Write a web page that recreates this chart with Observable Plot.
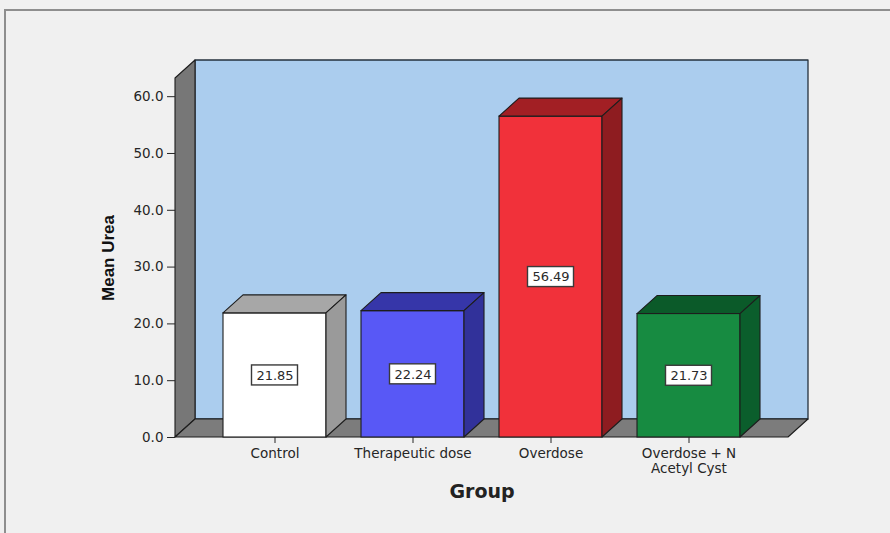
<!DOCTYPE html>
<html>
<head>
<meta charset="utf-8">
<script src="https://cdn.jsdelivr.net/npm/d3@7"></script>
<script src="https://cdn.jsdelivr.net/npm/@observablehq/plot@0.6"></script>
<style>
  html, body { margin: 0; padding: 0; background: #f0f0f0; }
  #wrap { position: relative; width: 890px; height: 533px; overflow: hidden; background: #f0f0f0; }
  #frame { position: absolute; left: 4px; top: 9px; width: 1000px; height: 1000px;
           border-top: 2px solid #8e8e8e; border-left: 2px solid #8e8e8e; z-index: 2; pointer-events: none; }
  #chart { position: absolute; left: 0; top: 0; }
</style>
</head>
<body>
<div id="wrap"><div id="frame"></div><div id="chart"></div></div>
<script>
// ---- data ----
const groups = ["Control", "Therapeutic dose", "Overdose", "Overdose + N\nAcetyl Cyst"];
const meanUrea = [21.85, 22.24, 56.49, 21.73];
const yTicks = [0, 10, 20, 30, 40, 50, 60];
const yDomain = [0, 63.2];
const frontColors = ["#ffffff", "#5858f6", "#f1313a", "#178b41"];
const topColors   = ["#a7a7a7", "#3636a9", "#a21f24", "#0b5a29"];
const sideColors  = ["#9a9a9a", "#31319a", "#8e1c20", "#0b5e2c"];

const data = groups.map((g, i) => ({
  group: g, value: meanUrea[i], front: frontColors[i], top: topColors[i], side: sideColors[i]
}));

// 3D depth offsets in pixels (style)
const DX = 20, DY = 18;
const EDGE = "#1d1d1d";

function polygon(g, pts, fill, stroke = EDGE, sw = 1.1) {
  g.append("polygon")
    .attr("points", pts.map(p => p.join(",")).join(" "))
    .attr("fill", fill)
    .attr("stroke", stroke)
    .attr("stroke-width", sw)
    .attr("stroke-linejoin", "round");
}

// back wall, left wall, floor
function walls(index, scales, values, dimensions) {
  const {width, marginLeft, marginRight} = dimensions;
  const x0 = marginLeft, x1 = width - marginRight;
  const yb = scales.y(yDomain[0]), yt = scales.y(yDomain[1]);
  const g = d3.create("svg:g");
  polygon(g, [[x0 + DX, yt - DY], [x1 + DX, yt - DY], [x1 + DX, yb - DY], [x0 + DX, yb - DY]], "#abcdee", "#25313d", 1.3);
  polygon(g, [[x0, yb], [x0, yt], [x0 + DX, yt - DY], [x0 + DX, yb - DY]], "#777777");
  polygon(g, [[x0, yb], [x0 + DX, yb - DY], [x1 + DX, yb - DY], [x1, yb]], "#7c7c7c");
  return g.node();
}

// top and side faces of each bar
function barFaces(index, scales) {
  const g = d3.create("svg:g");
  const bw = scales.x.bandwidth();
  const yb = scales.y(0);
  data.forEach(d => {
    const xl = scales.x(d.group), xr = xl + bw, yt = scales.y(d.value);
    polygon(g, [[xl, yt], [xl + DX, yt - DY], [xr + DX, yt - DY], [xr, yt]], d.top);
    polygon(g, [[xr, yt], [xr + DX, yt - DY], [xr + DX, yb - DY], [xr, yb]], d.side);
  });
  return g.node();
}

// white boxes behind value labels
function labelBoxes(index, scales) {
  const g = d3.create("svg:g");
  const bw = scales.x.bandwidth();
  const W = 46, H = 20;
  data.forEach(d => {
    const cx = scales.x(d.group) + bw / 2, cy = scales.y(d.value / 2);
    g.append("rect")
      .attr("x", cx - W / 2).attr("y", cy - H / 2)
      .attr("width", W).attr("height", H)
      .attr("fill", "#ffffff").attr("stroke", "#3a3a3a").attr("stroke-width", 1.4);
  });
  return g.node();
}

const chart = Plot.plot({
  width: 890,
  height: 533,
  marginLeft: 175,
  marginRight: 102,
  marginTop: 78,
  marginBottom: 96,
  style: {background: "transparent", fontFamily: "DejaVu Sans", fontSize: "13px", color: "#222", overflow: "visible"},
  color: {type: "identity"},
  x: {type: "band", domain: groups, paddingInner: 0.2536, paddingOuter: 0.3437, align: 0.5},
  y: {domain: yDomain},
  marks: [
    walls,
    Plot.barY(data, {x: "group", y: "value", fill: "front", stroke: EDGE, strokeWidth: 1.1, inset: 0}),
    barFaces,
    labelBoxes,
    Plot.text(data, {x: "group", y: d => d.value / 2, text: d => d.value.toFixed(2),
                     fontSize: 13, fill: "#2a2a2a", fontFamily: "DejaVu Sans"}),
    Plot.axisX({tickSize: 6, tickPadding: 4, fontSize: 13.5, lineHeight: 1.1, label: null,
                fill: "#262626", stroke: "#262626"}),
    Plot.axisY({ticks: yTicks, tickFormat: d => d.toFixed(1), tickSize: 8, tickPadding: 4,
                fontSize: 13.5, label: null, fill: "#262626", stroke: "#262626"}),
    Plot.text([0], {frameAnchor: "left", dx: -67, rotate: -90, text: () => "Mean Urea",
                    textAnchor: "middle", lineAnchor: "middle",
                    fontFamily: "Liberation Sans", fontWeight: "bold", fontSize: 17, fill: "#111"}),
    Plot.text([0], {frameAnchor: "bottom", dy: 54, text: () => "Group", lineAnchor: "middle",
                    fontFamily: "DejaVu Sans", fontWeight: "bold", fontSize: 19, fill: "#222"})
  ]
});
document.getElementById("chart").appendChild(chart);
</script>
</body>
</html>
